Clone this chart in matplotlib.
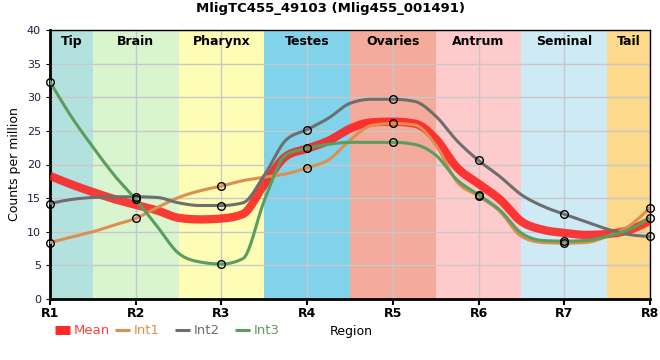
import numpy as np
import matplotlib
matplotlib.use("Agg")
import matplotlib.pyplot as plt
from matplotlib.lines import Line2D

# data
regions = ["R1", "R2", "R3", "R4", "R5", "R6", "R7", "R8"]
# the curves bend between regions too, so values were read every quarter region
pos = np.arange(0, 7.01, 0.25)
int1 = [8.4, 9.2, 10.0, 11.0, 12.0, 13.6, 15.1, 16.1,
        16.8, 17.6, 18.1, 18.6, 19.5, 20.7, 23.6, 25.8,
        26.1, 25.9, 22.9, 17.4, 15.3, 13.0, 9.3, 8.4,
        8.3, 8.4, 9.3, 10.8, 13.6]
int2 = [14.2, 14.8, 15.1, 15.2, 15.2, 15.1, 14.3, 13.9,
        13.9, 14.3, 18.4, 23.6, 25.2, 26.9, 29.1, 29.7,
        29.7, 29.4, 27.2, 23.5, 20.6, 18.2, 15.5, 13.8,
        12.6, 11.5, 10.4, 9.6, 9.3]
int3 = [32.3, 27.1, 22.6, 18.4, 14.8, 10.8, 6.8, 5.5,
        5.2, 6.0, 14.6, 21.4, 22.4, 23.0, 23.3, 23.3,
        23.3, 23.0, 21.4, 17.7, 15.5, 13.2, 9.8, 8.7,
        8.6, 8.7, 9.3, 10.3, 12.0]
mean = list(np.mean([int1, int2, int3], axis=0))

band_names = ["Tip", "Brain", "Pharynx", "Testes", "Ovaries", "Antrum", "Seminal", "Tail"]
band_colors = ["#b3e2de", "#d8f5d0", "#fdfdb6", "#80d3ea", "#f4ab9b",
               "#fdcbcb", "#ceeaf4", "#fcd98b"]


def monotone(x, y, n=20):
    # monotone cubic like d3.curveMonotoneX, only for drawing smooth lines
    x = np.asarray(x, float)
    y = np.asarray(y, float)
    h = np.diff(x)
    s = np.diff(y) / h
    t = np.zeros(len(x))
    for i in range(1, len(x) - 1):
        p = (s[i - 1] * h[i] + s[i] * h[i - 1]) / (h[i - 1] + h[i])
        t[i] = (np.sign(s[i - 1]) + np.sign(s[i])) * min(abs(s[i - 1]), abs(s[i]), 0.5 * abs(p))
    t[0] = (3 * s[0] - t[1]) / 2
    t[-1] = (3 * s[-1] - t[-2]) / 2
    xs, ys = [], []
    for i in range(len(x) - 1):
        u = np.linspace(0, 1, n)
        h00 = 2 * u**3 - 3 * u**2 + 1
        h10 = u**3 - 2 * u**2 + u
        h01 = -2 * u**3 + 3 * u**2
        h11 = u**3 - u**2
        xs.extend(x[i] + u * h[i])
        ys.extend(h00 * y[i] + h10 * h[i] * t[i] + h01 * y[i + 1] + h11 * h[i] * t[i + 1])
    return np.array(xs), np.array(ys)


fig = plt.figure(figsize=(6.6, 3.6), dpi=100)
ax = fig.add_axes([50 / 660, 1 - 299 / 360, 600 / 660, 269 / 360])

xpos = np.arange(len(regions))
for i, (name, col) in enumerate(zip(band_names, band_colors)):
    lo = max(i - 0.5, 0)
    hi = min(i + 0.5, len(regions) - 1)
    ax.axvspan(lo, hi, color=col, lw=0, zorder=0)
    ax.text((lo + hi) / 2, 39.3, name, ha="center", va="top", fontsize=9,
            fontweight="bold", zorder=5)

ax.set_xlim(0, len(regions) - 1)
ax.set_ylim(0, 40)
ax.set_yticks(range(0, 41, 5))
ax.set_xticks(xpos)
ax.set_xticklabels(regions, fontweight="bold", fontsize=9)
ax.tick_params(axis="y", labelsize=8, length=3, labelcolor="#202040")
ax.tick_params(axis="x", length=4, width=1.5, pad=2)
ax.grid(True, color="#c8c8c8", lw=1, zorder=1)
ax.set_axisbelow(True)
for sp in ["left", "bottom"]:
    ax.spines[sp].set_linewidth(2)
for sp in ["top", "right"]:
    ax.spines[sp].set_linewidth(1)

series = [
    ("Int1", int1, "#de8e4e"),
    ("Int2", int2, "#6e6e6e"),
    ("Int3", int3, "#5a9e5e"),
]
mx, my = monotone(pos, mean)
ax.plot(mx, my, color="#ff1a1a", lw=6, alpha=0.85, zorder=3, solid_capstyle="butt")
for name, vals, col in series:
    sx, sy = monotone(pos, vals)
    ax.plot(sx, sy, color=col, lw=2.2, zorder=4)
for name, vals, col in series:
    ax.plot(pos[::4], vals[::4], "o", ms=5.5, mfc="none", mec="black", mew=1,
            zorder=6, clip_on=False)

ax.set_ylabel("Counts per million", fontsize=9)
fig.suptitle("MligTC455_49103 (Mlig455_001491)", fontsize=9.5, fontweight="bold",
             y=0.995, x=0.5)

# legend drawn by hand below the axis
leg_y = 1 - 330 / 360
leg_items = [("Mean", "#ff2a2a", 6.5, "#ff4040"), ("Int1", "#de8e4e", 2.2, "#de8e4e"),
             ("Int2", "#6e6e6e", 2.2, "#6e6e6e"), ("Int3", "#5a9e5e", 2.2, "#5a9e5e")]
for k, (lab, col, lw, tcol) in enumerate(leg_items):
    x0 = (55 + 60 * k) / 660
    fig.add_artist(Line2D([x0, x0 + 15 / 660], [leg_y, leg_y], color=col, lw=lw,
                          solid_capstyle="butt", transform=fig.transFigure))
    fig.text(x0 + 19 / 660, leg_y, lab, ha="left", va="center", fontsize=9.5, color=tcol)
fig.text(351 / 660, 1 - 331 / 360, "Region", ha="center", va="center", fontsize=9)

fig.savefig("out.png", dpi=100)
